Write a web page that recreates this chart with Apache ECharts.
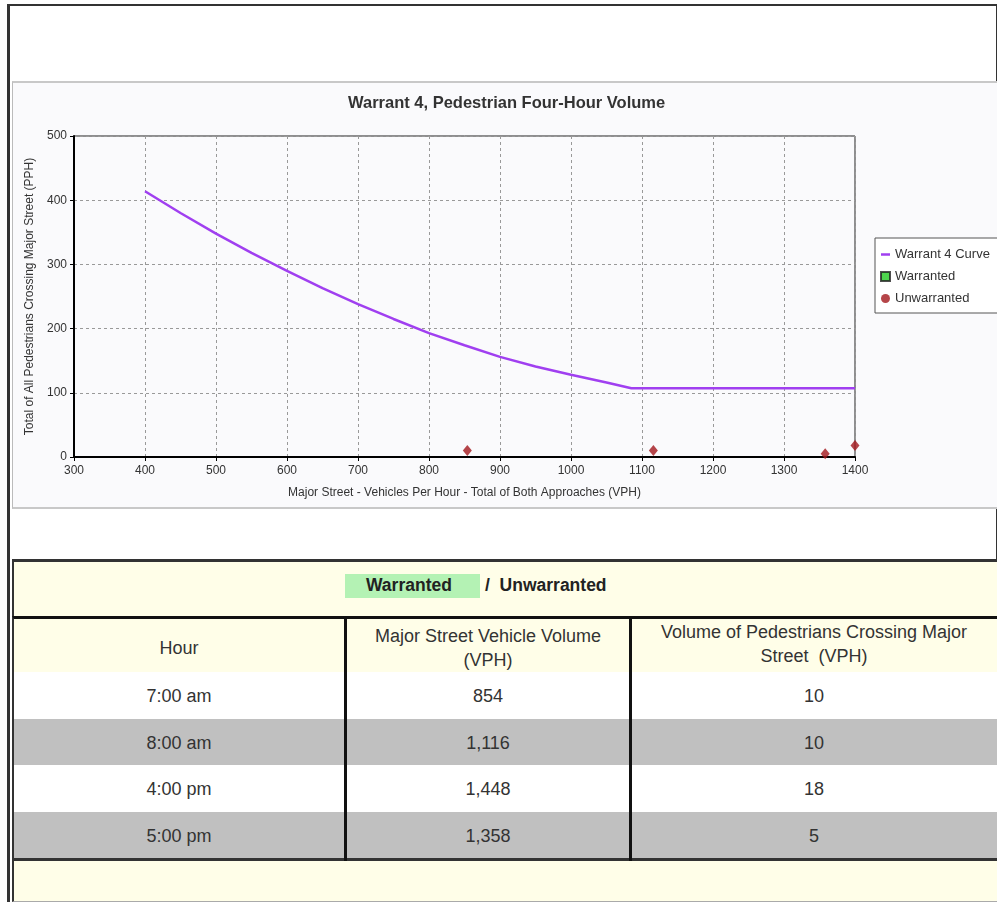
<!DOCTYPE html>
<html>
<head>
    <meta charset="UTF-8">
    <title>Warrant 4</title>
    <script src="https://cdn.jsdelivr.net/npm/echarts@6/dist/echarts.min.js"></script>
    <style>
        body { margin: 0; background: #fff; font-family: "Liberation Sans", Arial, sans-serif; }
        #frame { position: absolute; left: 7px; top: 4px; width: 986px; height: 900px;
                 border-left: 3px solid #333; border-top: 2px solid #333; border-right: 3px solid #333; }
        #panel { position: absolute; left: 12px; top: 81px; width: 985px; height: 424px;
                 background: #fafafc; border-top: 2px solid #c8c8c8; border-bottom: 2px solid #c8c8c8;
                 border-left: 1px solid #bbb; }
        #main { position: absolute; left: 0; top: 0; width: 984px; height: 424px; }
        .cell { position: absolute; text-align: center; color: #333; font-size: 18px; }
        .row { position: absolute; left: 12px; width: 985px; }
        .vline { position: absolute; width: 3px; background: #111; top: 617px; height: 244px; }
    </style>
</head>
<body>
<div id="frame"></div>
<div id="panel"><div id="main"></div></div>

<div class="row" style="top:559px;height:57px;background:#fffee8;border-top:3px solid #333;border-left:2px solid #333;">
    <div style="position:absolute;left:331px;top:12px;width:135px;height:24px;background:#b4f2b4;"></div>
    <div style="position:absolute;left:352px;top:13px;font-size:17.5px;font-weight:bold;color:#222;">Warranted</div>
    <div style="position:absolute;left:471px;top:13px;font-size:17.5px;font-weight:bold;color:#222;">/&nbsp;&nbsp;Unwarranted</div>
</div>
<div id="table"></div>

<script type="text/javascript">
    // curve of warrant 4
    var curveVph = [400, 450, 500, 550, 600, 650, 700, 750, 800, 850, 900, 950, 1000, 1050, 1085, 1400];
    var curvePph = [414, 380, 348, 318, 290, 263, 238, 215, 193, 174, 156, 141, 128, 116, 107, 107];

    // study hours (table + unwarranted points)
    var hours = ['7:00 am', '8:00 am', '4:00 pm', '5:00 pm'];
    var vehVolume = [854, 1116, 1448, 1358];
    var pedVolume = [10, 10, 18, 5];
    var warranted = [];

    var xTicks = {min: 300, max: 1400, step: 100};
    var yTicks = {min: 0, max: 500, step: 100};

    var curveData = curveVph.map(function (v, i) { return [v, curvePph[i]]; });
    // points beyond the axis are pinned to its edge, like the original chart
    var unwarrData = vehVolume.map(function (v, i) { return [Math.min(v, xTicks.max), pedVolume[i]]; });

    var echart = echarts.init(document.getElementById('main'));
    var txt = '#333';
    var option = {
        animation: false,
        title: {
            text: 'Warrant 4, Pedestrian Four-Hour Volume',
            left: 330, top: 7,
            textStyle: {fontSize: 16.5, fontWeight: 'bold', color: '#333', fontFamily: 'Liberation Sans'}
        },
        legend: {
            orient: 'vertical',
            left: 862, top: 155,
            padding: [10, 14, 8, 5],
            itemWidth: 9, itemHeight: 9, itemGap: 9,
            backgroundColor: '#fff',
            borderColor: '#555', borderWidth: 1,
            textStyle: {fontSize: 13, color: txt, fontFamily: 'Liberation Sans'},
            data: [
                {name: 'Warrant 4 Curve', icon: 'path://M0,0 L9,0 L9,2.5 L0,2.5 Z'},
                {name: 'Warranted'},
                {name: 'Unwarranted', icon: 'circle'}
            ]
        },
        grid: {left: 61, top: 53, width: 781, height: 321, show: true, borderColor: '#222', borderWidth: 1},
        xAxis: {
            type: 'value', min: xTicks.min, max: xTicks.max, interval: xTicks.step,
            name: 'Major Street - Vehicles Per Hour - Total of Both Approaches (VPH)',
            nameLocation: 'middle', nameGap: 30,
            nameTextStyle: {fontSize: 12, color: txt, fontFamily: 'Liberation Sans'},
            axisLine: {show: true, onZero: false, lineStyle: {color: '#000', width: 2}},
            axisTick: {show: true, length: 4, lineStyle: {color: '#000'}},
            axisLabel: {fontSize: 12, color: txt, margin: 8, fontFamily: 'Liberation Sans',
                        formatter: function (v) { return String(v); }},
            splitLine: {show: true, lineStyle: {color: '#999', type: [3, 3]}}
        },
        yAxis: {
            type: 'value', min: yTicks.min, max: yTicks.max, interval: yTicks.step,
            name: 'Total of All Pedestrians Crossing Major Street (PPH)',
            nameLocation: 'middle', nameRotate: 90, nameGap: 36,
            nameTextStyle: {fontSize: 12, color: txt, fontFamily: 'Liberation Sans'},
            axisLine: {show: true, lineStyle: {color: '#000', width: 2}},
            axisTick: {show: true, length: 4, lineStyle: {color: '#000'}},
            axisLabel: {fontSize: 12, color: txt, margin: 7, fontFamily: 'Liberation Sans'},
            splitLine: {show: true, lineStyle: {color: '#999', type: [3, 3]}}
        },
        series: [
            {
                name: 'Warrant 4 Curve', type: 'line', data: curveData,
                symbol: 'none', lineStyle: {color: '#a03ff0', width: 2.5},
                itemStyle: {color: '#a03ff0'}
            },
            {
                name: 'Warranted', type: 'scatter', data: warranted,
                symbol: 'rect', symbolSize: 9,
                itemStyle: {color: '#22cc22', borderColor: '#222', borderWidth: 1}
            },
            {
                name: 'Unwarranted', type: 'scatter', data: unwarrData, clip: false,
                symbol: 'diamond', symbolSize: [9, 11],
                itemStyle: {color: '#a3161c'}
            }
        ]
    };
    echart.setOption(option);

    // table under the chart
    function buildTable() {
        var box = document.getElementById('table');
        var html = '';
        var cols = [[14, 330], [347, 282], [632, 364]];
        // header
        html += '<div class="row" style="top:616px;height:54px;background:#fffee8;border-top:3px solid #111;border-bottom:2px solid #555;border-left:2px solid #333;"></div>';
        var heads = ['Hour', 'Major Street Vehicle Volume<br>(VPH)', 'Volume of Pedestrians Crossing Major<br>Street&nbsp;&nbsp;(VPH)'];
        var headTop = [636, 624, 620];
        for (var c = 0; c < 3; c++) {
            html += '<div class="cell" style="left:' + cols[c][0] + 'px;width:' + cols[c][1] + 'px;top:' + headTop[c] + 'px;line-height:24px;">' + heads[c] + '</div>';
        }
        var rowH = 46.5;
        for (var i = 0; i < hours.length; i++) {
            var top = 672 + i * rowH;
            var bg = i % 2 ? '#c0c0c0' : '#fff';
            html += '<div class="row" style="top:' + top + 'px;height:' + rowH + 'px;background:' + bg + ';border-left:2px solid #333;"></div>';
            var vals = [hours[i], vehVolume[i].toLocaleString('en-US'), String(pedVolume[i])];
            for (var k = 0; k < 3; k++) {
                html += '<div class="cell" style="left:' + cols[k][0] + 'px;width:' + cols[k][1] + 'px;top:' + (top + 14) + 'px;">' + vals[k] + '</div>';
            }
        }
        html += '<div class="row" style="top:858px;height:40px;background:#fffee8;border-top:3px solid #333;border-bottom:1px solid #aaa;border-left:2px solid #333;"></div>';
        html += '<div class="vline" style="left:344px;"></div><div class="vline" style="left:629px;"></div>';
        box.innerHTML = html;
    }
    buildTable();
</script>
</body>
</html>
